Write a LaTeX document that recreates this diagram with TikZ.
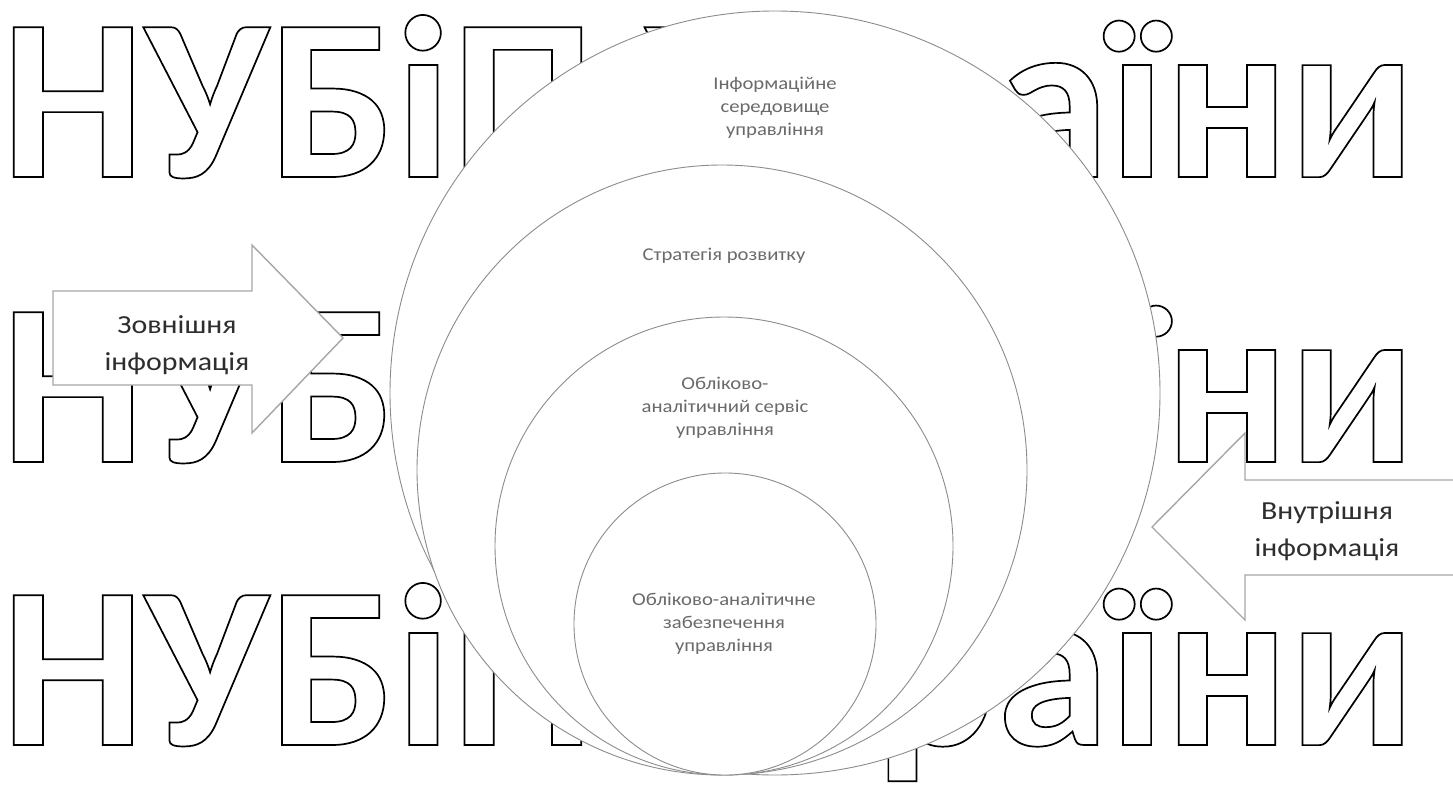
\documentclass[tikz,border=0pt]{standalone}
\usepackage{fontspec}
\setmainfont{Carlito}
\newfontfamily\lblfont[FakeStretch=1.15]{Carlito}
\newfontfamily\wmfont[FakeStretch=0.984]{Carlito}
\definecolor{lineg}{HTML}{8C8C8C}
\definecolor{arrg}{HTML}{A6A6A6}
\definecolor{txtg}{HTML}{6A6A6A}
\definecolor{txtd}{HTML}{2E2E2E}
\newcommand\outlinetext[1]{\special{pdf:literal direct 1 Tr 1.7 w}#1\special{pdf:literal direct 0 Tr}}
\tikzset{
  wmark/.style={anchor=base west, inner sep=0pt, text=black, font=\wmfont\fontsize{231}{231}\selectfont\bfseries},
  ring/.style={draw=lineg, line width=0.9pt, fill=white},
  blockarrow/.style={draw=arrg, line width=1.4pt, fill=white, line join=miter},
  lbl/.style={align=center, inner sep=0pt, text=txtg, font=\lblfont\fontsize{18}{22.8}\selectfont},
  biglbl/.style={align=center, inner sep=0pt, text=txtd, font=\lblfont\fontsize{26}{36.5}\selectfont},
}
\begin{document}
\begin{tikzpicture}[x=1pt,y=-1pt]
\useasboundingbox (0,0) rectangle (1453,792);
\fill[white] (0,0) rectangle (1453,792);
% watermark
\node[wmark] (wm1) at (1,177) {\outlinetext{НУБіП України}};
\node[wmark] (wm2) at (1,462) {\outlinetext{НУБіП України}};
\node[wmark] (wm3) at (1,745) {\outlinetext{НУБіП України}};
% nested circles
\draw[ring] (775,393) ellipse [x radius=385, y radius=382];
\draw[ring] (722,470) circle [radius=305];
\draw[ring] (724,546) circle [radius=229];
\draw[ring] (725,624) circle [radius=151];
% labels
\node[lbl] (t1) at (775,108) {Інформаційне\\середовище\\управління};
\node[lbl] (t2) at (724,256) {Стратегія розвитку};
\node[lbl] (t3) at (725,408) {Обліково-\\аналітичний сервіс\\управління};
\node[lbl] (t4) at (724,624) {Обліково-аналітичне\\забезпечення\\управління};
% arrows
\draw[blockarrow] (53,291) -- (252,291) -- (252,245) -- (343,338) -- (252,433) -- (252,385) -- (53,385) -- cycle;
\draw[blockarrow] (1462,480) -- (1245,480) -- (1245,433) -- (1152,527) -- (1245,620) -- (1245,575) -- (1462,575) -- cycle;
\node[biglbl] (a1) at (177,345) {Зовнішня\\інформація};
\node[biglbl] (a2) at (1327,531) {Внутрішня\\інформація};
\end{tikzpicture}
\end{document}
